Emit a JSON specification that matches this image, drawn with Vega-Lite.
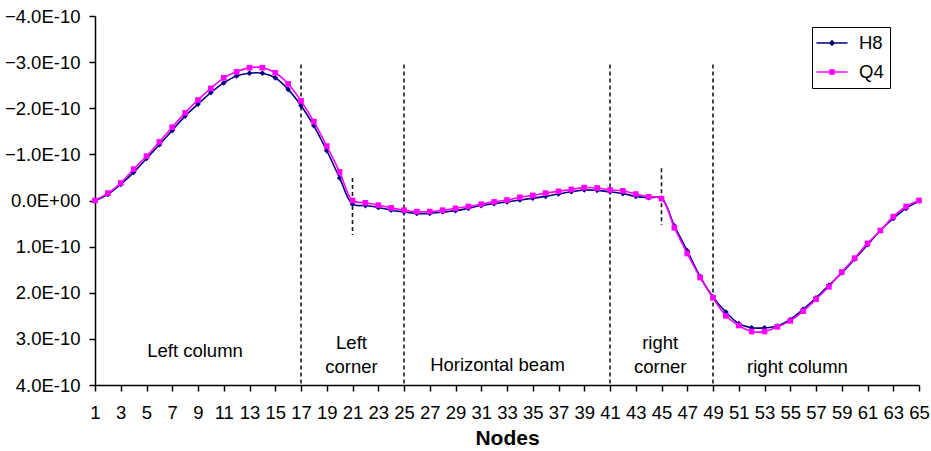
{
  "$schema": "https://vega.github.io/schema/vega-lite/v6.json",
  "width": 824,
  "height": 369,
  "autosize": {"type": "none"},
  "padding": {"left": 95, "top": 16, "right": 12, "bottom": 66},
  "background": "#ffffff",
  "config": {
    "view": {"stroke": null},
    "font": "Liberation Sans",
    "axis": {
      "domainColor": "#000000",
      "domainWidth": 1.5,
      "tickColor": "#000000",
      "tickWidth": 1.5,
      "tickSize": 6,
      "labelColor": "#000000",
      "labelFont": "Liberation Sans",
      "labelFontSize": 18.5,
      "titleColor": "#000000",
      "titleFont": "Liberation Sans",
      "grid": false
    }
  },
  "datasets": {
    "deflection": [
      {"node": 1, "series": "H8", "value": 0},
      {"node": 2, "series": "H8", "value": -0.13e-10},
      {"node": 3, "series": "H8", "value": -0.35e-10},
      {"node": 4, "series": "H8", "value": -0.61e-10},
      {"node": 5, "series": "H8", "value": -0.91e-10},
      {"node": 6, "series": "H8", "value": -1.21e-10},
      {"node": 7, "series": "H8", "value": -1.52e-10},
      {"node": 8, "series": "H8", "value": -1.83e-10},
      {"node": 9, "series": "H8", "value": -2.09e-10},
      {"node": 10, "series": "H8", "value": -2.34e-10},
      {"node": 11, "series": "H8", "value": -2.55e-10},
      {"node": 12, "series": "H8", "value": -2.70e-10},
      {"node": 13, "series": "H8", "value": -2.76e-10},
      {"node": 14, "series": "H8", "value": -2.76e-10},
      {"node": 15, "series": "H8", "value": -2.66e-10},
      {"node": 16, "series": "H8", "value": -2.41e-10},
      {"node": 17, "series": "H8", "value": -2.06e-10},
      {"node": 18, "series": "H8", "value": -1.62e-10},
      {"node": 19, "series": "H8", "value": -1.08e-10},
      {"node": 20, "series": "H8", "value": -0.49e-10},
      {"node": 21, "series": "H8", "value": 0.08e-10},
      {"node": 22, "series": "H8", "value": 0.11e-10},
      {"node": 23, "series": "H8", "value": 0.15e-10},
      {"node": 24, "series": "H8", "value": 0.21e-10},
      {"node": 25, "series": "H8", "value": 0.25e-10},
      {"node": 26, "series": "H8", "value": 0.28e-10},
      {"node": 27, "series": "H8", "value": 0.28e-10},
      {"node": 28, "series": "H8", "value": 0.25e-10},
      {"node": 29, "series": "H8", "value": 0.22e-10},
      {"node": 30, "series": "H8", "value": 0.17e-10},
      {"node": 31, "series": "H8", "value": 0.11e-10},
      {"node": 32, "series": "H8", "value": 0.07e-10},
      {"node": 33, "series": "H8", "value": 0.03e-10},
      {"node": 34, "series": "H8", "value": -0.01e-10},
      {"node": 35, "series": "H8", "value": -0.05e-10},
      {"node": 36, "series": "H8", "value": -0.09e-10},
      {"node": 37, "series": "H8", "value": -0.14e-10},
      {"node": 38, "series": "H8", "value": -0.19e-10},
      {"node": 39, "series": "H8", "value": -0.23e-10},
      {"node": 40, "series": "H8", "value": -0.22e-10},
      {"node": 41, "series": "H8", "value": -0.19e-10},
      {"node": 42, "series": "H8", "value": -0.15e-10},
      {"node": 43, "series": "H8", "value": -0.09e-10},
      {"node": 44, "series": "H8", "value": -0.06e-10},
      {"node": 45, "series": "H8", "value": -0.05e-10},
      {"node": 46, "series": "H8", "value": 0.55e-10},
      {"node": 47, "series": "H8", "value": 1.09e-10},
      {"node": 48, "series": "H8", "value": 1.65e-10},
      {"node": 49, "series": "H8", "value": 2.09e-10},
      {"node": 50, "series": "H8", "value": 2.42e-10},
      {"node": 51, "series": "H8", "value": 2.67e-10},
      {"node": 52, "series": "H8", "value": 2.76e-10},
      {"node": 53, "series": "H8", "value": 2.76e-10},
      {"node": 54, "series": "H8", "value": 2.72e-10},
      {"node": 55, "series": "H8", "value": 2.58e-10},
      {"node": 56, "series": "H8", "value": 2.36e-10},
      {"node": 57, "series": "H8", "value": 2.11e-10},
      {"node": 58, "series": "H8", "value": 1.84e-10},
      {"node": 59, "series": "H8", "value": 1.57e-10},
      {"node": 60, "series": "H8", "value": 1.27e-10},
      {"node": 61, "series": "H8", "value": 0.96e-10},
      {"node": 62, "series": "H8", "value": 0.65e-10},
      {"node": 63, "series": "H8", "value": 0.39e-10},
      {"node": 64, "series": "H8", "value": 0.17e-10},
      {"node": 65, "series": "H8", "value": 0.01e-10},
      {"node": 1, "series": "Q4", "value": 0},
      {"node": 2, "series": "Q4", "value": -0.16e-10},
      {"node": 3, "series": "Q4", "value": -0.38e-10},
      {"node": 4, "series": "Q4", "value": -0.68e-10},
      {"node": 5, "series": "Q4", "value": -0.96e-10},
      {"node": 6, "series": "Q4", "value": -1.27e-10},
      {"node": 7, "series": "Q4", "value": -1.59e-10},
      {"node": 8, "series": "Q4", "value": -1.90e-10},
      {"node": 9, "series": "Q4", "value": -2.18e-10},
      {"node": 10, "series": "Q4", "value": -2.43e-10},
      {"node": 11, "series": "Q4", "value": -2.66e-10},
      {"node": 12, "series": "Q4", "value": -2.79e-10},
      {"node": 13, "series": "Q4", "value": -2.88e-10},
      {"node": 14, "series": "Q4", "value": -2.88e-10},
      {"node": 15, "series": "Q4", "value": -2.77e-10},
      {"node": 16, "series": "Q4", "value": -2.53e-10},
      {"node": 17, "series": "Q4", "value": -2.16e-10},
      {"node": 18, "series": "Q4", "value": -1.71e-10},
      {"node": 19, "series": "Q4", "value": -1.18e-10},
      {"node": 20, "series": "Q4", "value": -0.62e-10},
      {"node": 21, "series": "Q4", "value": 0.00},
      {"node": 22, "series": "Q4", "value": 0.05e-10},
      {"node": 23, "series": "Q4", "value": 0.10e-10},
      {"node": 24, "series": "Q4", "value": 0.16e-10},
      {"node": 25, "series": "Q4", "value": 0.21e-10},
      {"node": 26, "series": "Q4", "value": 0.24e-10},
      {"node": 27, "series": "Q4", "value": 0.24e-10},
      {"node": 28, "series": "Q4", "value": 0.21e-10},
      {"node": 29, "series": "Q4", "value": 0.17e-10},
      {"node": 30, "series": "Q4", "value": 0.13e-10},
      {"node": 31, "series": "Q4", "value": 0.08e-10},
      {"node": 32, "series": "Q4", "value": 0.03e-10},
      {"node": 33, "series": "Q4", "value": -0.01e-10},
      {"node": 34, "series": "Q4", "value": -0.07e-10},
      {"node": 35, "series": "Q4", "value": -0.11e-10},
      {"node": 36, "series": "Q4", "value": -0.16e-10},
      {"node": 37, "series": "Q4", "value": -0.20e-10},
      {"node": 38, "series": "Q4", "value": -0.24e-10},
      {"node": 39, "series": "Q4", "value": -0.28e-10},
      {"node": 40, "series": "Q4", "value": -0.27e-10},
      {"node": 41, "series": "Q4", "value": -0.23e-10},
      {"node": 42, "series": "Q4", "value": -0.21e-10},
      {"node": 43, "series": "Q4", "value": -0.14e-10},
      {"node": 44, "series": "Q4", "value": -0.08e-10},
      {"node": 45, "series": "Q4", "value": -0.04e-10},
      {"node": 46, "series": "Q4", "value": 0.59e-10},
      {"node": 47, "series": "Q4", "value": 1.15e-10},
      {"node": 48, "series": "Q4", "value": 1.67e-10},
      {"node": 49, "series": "Q4", "value": 2.11e-10},
      {"node": 50, "series": "Q4", "value": 2.50e-10},
      {"node": 51, "series": "Q4", "value": 2.71e-10},
      {"node": 52, "series": "Q4", "value": 2.84e-10},
      {"node": 53, "series": "Q4", "value": 2.84e-10},
      {"node": 54, "series": "Q4", "value": 2.74e-10},
      {"node": 55, "series": "Q4", "value": 2.61e-10},
      {"node": 56, "series": "Q4", "value": 2.40e-10},
      {"node": 57, "series": "Q4", "value": 2.14e-10},
      {"node": 58, "series": "Q4", "value": 1.87e-10},
      {"node": 59, "series": "Q4", "value": 1.55e-10},
      {"node": 60, "series": "Q4", "value": 1.25e-10},
      {"node": 61, "series": "Q4", "value": 0.93e-10},
      {"node": 62, "series": "Q4", "value": 0.65e-10},
      {"node": 63, "series": "Q4", "value": 0.35e-10},
      {"node": 64, "series": "Q4", "value": 0.13e-10},
      {"node": 65, "series": "Q4", "value": 0}
    ],
    "dividers": [
      {"node": 17, "value": -2.95e-10, "value2": 4e-10},
      {"node": 25, "value": -2.95e-10, "value2": 4e-10},
      {"node": 41, "value": -2.95e-10, "value2": 4e-10},
      {"node": 49, "value": -2.95e-10, "value2": 4e-10},
      {"node": 21, "value": -0.49e-10, "value2": 0.75e-10},
      {"node": 45, "value": -0.70e-10, "value2": 0.53e-10}
    ],
    "sections": [
      {"node": 8.77, "value": 3.39e-10, "label": "Left column"},
      {"node": 20.92, "value": 3.23e-10, "label": "Left"},
      {"node": 20.92, "value": 3.73e-10, "label": "corner"},
      {"node": 32.26, "value": 3.69e-10, "label": "Horizontal beam"},
      {"node": 44.9, "value": 3.23e-10, "label": "right"},
      {"node": 44.9, "value": 3.73e-10, "label": "corner"},
      {"node": 55.56, "value": 3.73e-10, "label": "right column"}
    ]
  },
  "encoding": {
    "x": {
      "field": "node",
      "type": "quantitative",
      "scale": {"domain": [1, 65], "nice": false, "zero": false},
      "axis": {
        "values": [1, 3, 5, 7, 9, 11, 13, 15, 17, 19, 21, 23, 25, 27, 29, 31, 33, 35, 37, 39, 41, 43, 45, 47, 49, 51, 53, 55, 57, 59, 61, 63, 65],
        "format": "d",
        "labelFlush": false,
        "labelOverlap": false,
        "labelPadding": 12,
        "title": "Nodes",
        "titleFontSize": 21,
        "titleFontWeight": "bold",
        "titlePadding": 6
      }
    },
    "y": {
      "field": "value",
      "type": "quantitative",
      "scale": {"domain": [-4e-10, 4e-10], "nice": false, "zero": false, "reverse": true},
      "axis": {
        "values": [-4e-10, -3e-10, -2e-10, -1e-10, 0, 1e-10, 2e-10, 3e-10, 4e-10],
        "labelExpr": "datum.value == 0 ? '0.0E+00' : replace(format(datum.value, '.1e'), 'e', 'E')",
        "labelPadding": 9,
        "labelOverlap": false,
        "title": null
      }
    }
  },
  "layer": [
    {
      "data": {"name": "dividers"},
      "mark": {"type": "rule", "strokeDash": [4, 3], "strokeWidth": 1.6, "color": "#1a1a1a"},
      "encoding": {"y2": {"field": "value2"}}
    },
    {
      "data": {"name": "sections"},
      "mark": {"type": "text", "fontSize": 18.5, "align": "center", "baseline": "alphabetic", "color": "#000000", "font": "Liberation Sans"},
      "encoding": {"text": {"field": "label", "type": "nominal"}}
    },
    {
      "data": {"name": "deflection"},
      "transform": [{"filter": "datum.series === 'H8'"}],
      "mark": {"type": "line", "interpolate": "catmull-rom", "strokeWidth": 1.6},
      "encoding": {
        "color": {
          "field": "series",
          "type": "nominal",
          "scale": {"domain": ["H8", "Q4"], "range": ["#000080", "#FF00FF"]},
          "legend": {
            "orient": "none",
            "legendX": 717,
            "legendY": 11,
            "title": null,
            "padding": 6,
            "strokeColor": "#000000",
            "fillColor": "#ffffff",
            "symbolType": "M-1.55,-0.08H1.55V0.08H-1.55Z",
            "symbolSize": 400,
            "symbolOffset": 4,
            "labelOffset": 17,
            "rowPadding": 9,
            "labelFontSize": 18.5,
            "labelColor": "#000000",
            "labelFont": "Liberation Sans",
            "encode": {
              "symbols": {
                "update": {
                  "shape": {"signal": "datum.value === 'H8' ? 'M-1.55,-0.08H1.55V0.08H-1.55Z M0,-0.32L0.32,0L0,0.32L-0.32,0Z' : 'M-1.55,-0.08H1.55V0.08H-1.55Z M-0.28,-0.28H0.28V0.28H-0.28Z'"},
                  "fill": {"signal": "datum.value === 'H8' ? '#000080' : '#FF00FF'"},
                  "stroke": {"value": "transparent"},
                  "strokeWidth": {"value": 0},
                  "opacity": {"value": 1}
                }
              }
            }
          }
        }
      }
    },
    {
      "data": {"name": "deflection"},
      "transform": [{"filter": "datum.series === 'H8'"}],
      "mark": {"type": "point", "shape": "diamond", "filled": true, "size": 32, "opacity": 1},
      "encoding": {"color": {"field": "series", "type": "nominal"}}
    },
    {
      "data": {"name": "deflection"},
      "transform": [{"filter": "datum.series === 'Q4'"}],
      "mark": {"type": "line", "interpolate": "catmull-rom", "strokeWidth": 1.6},
      "encoding": {"color": {"field": "series", "type": "nominal"}}
    },
    {
      "data": {"name": "deflection"},
      "transform": [{"filter": "datum.series === 'Q4'"}],
      "mark": {"type": "point", "shape": "square", "filled": true, "size": 32, "opacity": 1},
      "encoding": {"color": {"field": "series", "type": "nominal"}}
    }
  ]
}
